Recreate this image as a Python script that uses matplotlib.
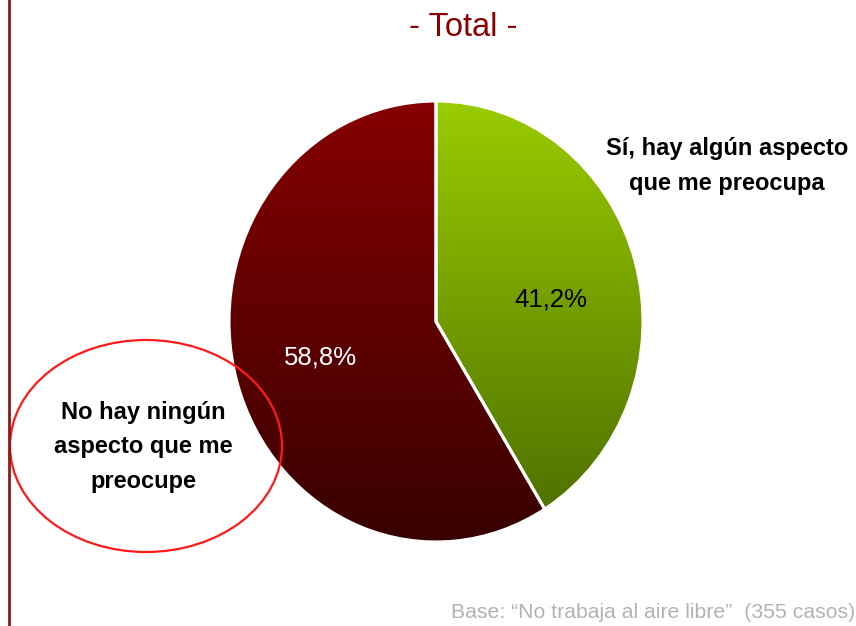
import numpy as np
import matplotlib.pyplot as plt
from matplotlib.colors import LinearSegmentedColormap
from matplotlib.patches import Ellipse

plt.rcParams["font.family"] = ["Liberation Sans", "DejaVu Sans"]

# Data
categories = ["Sí, hay algún aspecto\nque me preocupa", "No hay ningún\naspecto que me\npreocupe"]
values = [41.2, 58.8]
pct_labels = ["41,2%", "58,8%"]
title = "- Total -"
footer = "Base: \u201cNo trabaja al aire libre\u201d  (355 casos)"

W, H = 856, 626
fig = plt.figure(figsize=(W / 100, H / 100), dpi=100)

# pie axes placed on the pie's bounding box (pixels)
left, right, top, bottom = 229, 643, 101, 542
ax = fig.add_axes([left / W, 1 - bottom / H, (right - left) / W, (bottom - top) / H])
wedges, _ = ax.pie(values, startangle=90, counterclock=False, radius=1.0,
                   wedgeprops=dict(facecolor="none", edgecolor="white", linewidth=2.2))
ax.set_aspect("auto")
ax.set_xlim(-1, 1)
ax.set_ylim(-1, 1)
ax.axis("off")

# vertical gradients clipped to each wedge
grads = [
    LinearSegmentedColormap.from_list("g", ["#4a6a00", "#99cc00"]),
    LinearSegmentedColormap.from_list("r", ["#380000", "#860000"]),
]
grad = np.linspace(0, 1, 256).reshape(-1, 1)
for w, cmap in zip(wedges, grads):
    im = ax.imshow(grad, cmap=cmap, extent=(-1, 1, -1, 1), origin="lower",
                   aspect="auto", zorder=1)
    im.set_clip_path(w)
    w.set_zorder(2)

# overlay in pixel coordinates
ov = fig.add_axes([0, 0, 1, 1], facecolor="none")
ov.set_xlim(0, W)
ov.set_ylim(H, 0)
ov.axis("off")

ov.plot([9.5, 9.5], [0, H], color="#8b1a1a", lw=2)
ov.add_patch(Ellipse((146, 446), 272, 212, fill=False, edgecolor="#ff1a1a", lw=1.6))

ov.text(463, 27, title, ha="center", va="center", fontsize=23.5, color="#8b0000")
ov.text(727, 166, categories[0], ha="center", va="center", fontsize=17,
        fontweight="bold", linespacing=1.62, color="black")
ov.text(143, 447, categories[1], ha="center", va="center", fontsize=17,
        fontweight="bold", linespacing=1.62, color="black")
ov.text(551, 300, pct_labels[0], ha="center", va="center", fontsize=18.5, color="black")
ov.text(320, 357, pct_labels[1], ha="center", va="center", fontsize=18.5, color="white")
ov.text(855, 612, footer, ha="right", va="center", fontsize=15.3, color="#b3b3b3")

fig.savefig("out.png", dpi=100)
